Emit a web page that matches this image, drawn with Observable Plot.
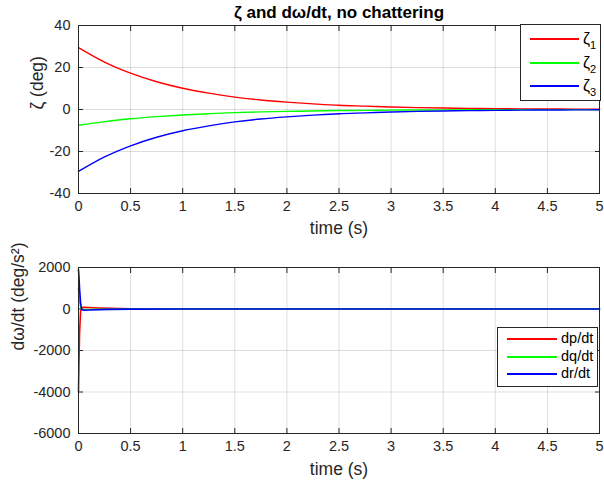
<!DOCTYPE html>
<html><head><meta charset="utf-8">
<script src="https://cdn.jsdelivr.net/npm/d3@7"></script>
<script src="https://cdn.jsdelivr.net/npm/@observablehq/plot@0.6"></script>
<style>
body{margin:0;background:#fff;font-family:"Liberation Sans",Arial,sans-serif;}
#wrap{position:relative;width:604px;height:487px;overflow:hidden;}
#wrap svg{position:absolute;left:0;}
.legend{position:absolute;background:#fff;border:1px solid #262626;box-sizing:border-box;color:#000;}
.ln{position:absolute;height:2px;}
.lb{position:absolute;font-size:14.5px;line-height:15px;white-space:nowrap;}
.lb.z{font-size:16px;}
.lb sub{font-size:11px;vertical-align:-5px;}
</style></head><body><div id="wrap"></div>
<script>
// ---- data: top subplot (zeta, deg) ----
const time = [0,0.25,0.5,0.75,1,1.25,1.5,1.75,2,2.25,2.5,2.75,3,3.25,3.5,3.75,4,4.25,4.5,4.75,5];
const zeta1 = [29.5,22.6,17.3,13.2,10.1,7.8,5.9,4.5,3.5,2.7,2.0,1.6,1.2,0.9,0.7,0.55,0.4,0.3,0.25,0.2,0.15];
const zeta2 = [-7.5,-5.8,-4.4,-3.4,-2.6,-2.0,-1.5,-1.15,-0.9,-0.7,-0.5,-0.4,-0.3,-0.23,-0.18,-0.14,-0.1,-0.08,-0.06,-0.05,-0.04];
const zeta3 = [-29.5,-22.6,-17.3,-13.2,-10.1,-7.8,-5.9,-4.5,-3.5,-2.7,-2.0,-1.6,-1.2,-0.9,-0.7,-0.55,-0.4,-0.3,-0.25,-0.2,-0.15];
const zetaNames = ["ζ1","ζ2","ζ3"];
// ---- data: bottom subplot (dω/dt, deg/s^2) ----
const tRate = [0,0.005,0.01,0.02,0.03,0.05,0.1,0.2,0.3,0.5,1,2,5];
const dp = [-4000,-2500,-1200,-100,60,80,70,45,28,10,1,0,0];
const dq = [1000,700,400,100,-10,-30,-25,-15,-9,-3,0,0,0];
const dr = [1900,1500,1000,300,-20,-60,-50,-30,-18,-6,-1,0,0];
const rateNames = ["dp/dt","dq/dt","dr/dt"];
// ---- ticks ----
const xTicks = [0,0.5,1,1.5,2,2.5,3,3.5,4,4.5,5];
const yTicksTop = [-40,-20,0,20,40];
const yTicksBot = [-6000,-4000,-2000,0,2000];
const colors = ["#ff0000","#00ff00","#0000ff"];

const ink = "#262626";
const fmt = d => String(d);
const style = {fontFamily:'"Liberation Sans",Arial,sans-serif',fontSize:"14.5px",color:ink,background:"white",overflow:"visible"};

function long(t, series, names){
  const out = [];
  series.forEach((s,k)=>s.forEach((v,i)=>out.push({t:t[i], v, name:names[k]})));
  return out;
}

function axesMarks(yTicks){
  return [
    Plot.gridX(xTicks,{stroke:"#000",strokeOpacity:0.13}),
    Plot.gridY(yTicks,{stroke:"#000",strokeOpacity:0.13}),
    Plot.axisX(xTicks,{anchor:"bottom",tickSize:0,tickPadding:7,tickFormat:fmt,label:null,fill:ink}),
    Plot.axisY(yTicks,{anchor:"left",tickSize:0,tickPadding:8,tickFormat:fmt,label:null,fill:ink}),
    Plot.axisX(xTicks,{anchor:"bottom",tickSize:-5,tickFormat:()=>"",label:null,stroke:ink}),
    Plot.axisX(xTicks,{anchor:"top",tickSize:-5,tickFormat:()=>"",label:null,stroke:ink}),
    Plot.axisY(yTicks,{anchor:"left",tickSize:-5,tickFormat:()=>"",label:null,stroke:ink}),
    Plot.axisY(yTicks,{anchor:"right",tickSize:-5,tickFormat:()=>"",label:null,stroke:ink})
  ];
}

const chartTop = Plot.plot({
  width:604, height:245,
  marginLeft:78, marginRight:5, marginTop:25, marginBottom:52,
  style,
  x:{domain:[0,5]},
  y:{domain:[-40,40]},
  color:{type:"ordinal", domain:zetaNames.slice(), range:colors.slice()},
  marks:[
    ...axesMarks(yTicksTop),
    Plot.line(long(time,[zeta1,zeta2,zeta3],zetaNames),{x:"t",y:"v",z:"name",stroke:"name",strokeWidth:1.4,curve:"monotone-x"}),
    Plot.frame({stroke:ink}),
    Plot.text(["time (s)"],{frameAnchor:"bottom",dy:40,fontSize:17.5,fill:ink}),
    Plot.text(["ζ (deg)"],{frameAnchor:"left",dx:-41,rotate:-90,fontSize:17.5,fill:ink}),
    Plot.text(["ζ and dω/dt, no chattering"],{frameAnchor:"top",dy:-20,fontSize:17,fontWeight:"bold",fill:"#000"})
  ]
});
chartTop.style.top = "0px";

const chartBot = Plot.plot({
  width:604, height:242,
  marginLeft:78, marginRight:5, marginTop:22, marginBottom:54,
  style,
  x:{domain:[0,5]},
  y:{domain:[-6000,2000]},
  color:{type:"ordinal", domain:rateNames.slice(), range:colors.slice()},
  marks:[
    ...axesMarks(yTicksBot),
    Plot.line(long(tRate,[dp,dq,dr],rateNames),{x:"t",y:"v",z:"name",stroke:"name",strokeWidth:1.6}),
    Plot.frame({stroke:ink}),
    Plot.text(["time (s)"],{frameAnchor:"bottom",dy:41,fontSize:17.5,fill:ink}),
    Plot.text(["dω/dt (deg/s²)"],{frameAnchor:"left",dx:-60,rotate:-90,fontSize:17.5,fill:ink})
  ]
});
chartBot.style.top = "245px";

const wrap = document.getElementById("wrap");
wrap.appendChild(chartTop);
wrap.appendChild(chartBot);

function legend(box, items, lineX, labelX, ys, html, cls){
  const d = document.createElement("div");
  d.className = "legend";
  Object.assign(d.style,{left:box[0]+"px",top:box[1]+"px",width:box[2]+"px",height:box[3]+"px"});
  items.forEach((name,i)=>{
    const l = document.createElement("div");
    l.className="ln";
    l.style.left = lineX[0]+"px";
    l.style.width = (lineX[1]-lineX[0])+"px";
    l.style.top = (ys[i]-1)+"px";
    l.style.backgroundColor = colors[i];
    d.appendChild(l);
    const t = document.createElement("div");
    t.className="lb "+cls;
    t.style.left = labelX+"px";
    t.style.top = (ys[i]-8)+"px";
    t.innerHTML = html(name);
    d.appendChild(t);
  });
  wrap.appendChild(d);
}
legend([520,24,81,77], zetaNames, [9,58], 62, [14,38,61], n => n[0]+"<sub>"+n.slice(1)+"</sub>", "z");
legend([497,327,101,60], rateNames, [9,59], 63, [11,29,46], n => n, "r");
</script></body></html>
